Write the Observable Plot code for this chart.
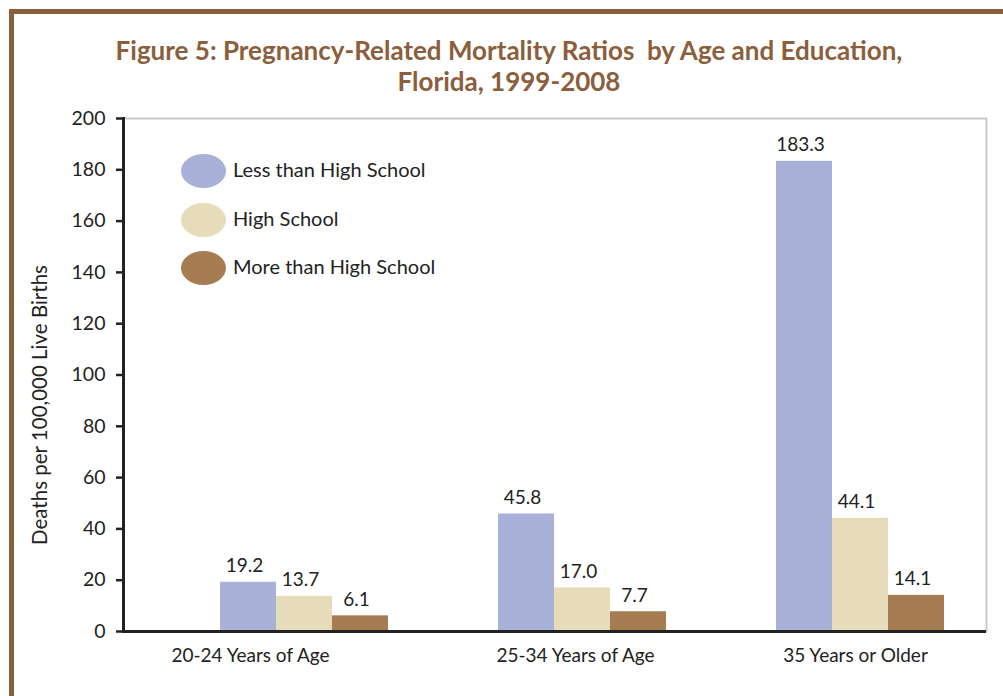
<!DOCTYPE html>
<html>
<head>
<meta charset="utf-8">
<script src="https://cdn.jsdelivr.net/npm/d3@7"></script>
<script src="https://cdn.jsdelivr.net/npm/@observablehq/plot@0.6"></script>
<style>
  body { margin: 0; background: #fff; }
  #wrap { position: relative; width: 1003px; height: 696px; overflow: hidden; background: #fff; font-family: Lato, "Open Sans", sans-serif; }
  #border { position: absolute; left: 9px; top: 9px; right: -20px; bottom: -20px; border-top: 5px solid #8B5E3C; border-left: 5px solid #8B5E3C; }
  #title { position: absolute; left: 14px; width: 990px; top: 35px; text-align: center; color: #8B5E3C; font-family: Lato, sans-serif; font-weight: 700; font-size: 26px; line-height: 31px; }
  #chart { position: absolute; left: 0; top: 100px; }
  .leg { position: absolute; left: 181px; height: 34px; display: flex; align-items: center; font-size: 20px; color: #222; font-family: Lato, sans-serif; }
  .leg span.sw { display: inline-block; width: 45px; height: 34px; border-radius: 50%; margin-right: 7px; }
  .leg span.tx { position: relative; top: -2px; }
</style>
</head>
<body>
<div id="wrap">
  <div id="border"></div>
  <div id="title">Figure 5: Pregnancy-Related Mortality Ratios&nbsp; by Age and Education,<br>Florida, 1999-2008</div>
  <div id="chart"></div>
  <div id="legend"></div>
</div>
<script>
const groups = ["20-24 Years of Age", "25-34 Years of Age", "35 Years or Older"];
const seriesNames = ["Less than High School", "High School", "More than High School"];
const lessThanHS = [19.2, 45.8, 183.3];
const highSchool = [13.7, 17.0, 44.1];
const moreThanHS = [6.1, 7.7, 14.1];
const seriesValues = [lessThanHS, highSchool, moreThanHS];
const seriesColors = ["#A9B1D8", "#E6DCB9", "#A67C52"];
const yTicks = [0, 20, 40, 60, 80, 100, 120, 140, 160, 180, 200];
const yLabel = "Deaths per 100,000 Live Births";

const barW = 56;
const step = 278;
const inset = (step - barW) / 2;
const font = "Lato, sans-serif";

const marks = [
  Plot.frame({stroke: "#c8c8c8", strokeWidth: 2})
];

seriesValues.forEach((vals, i) => {
  const rows = groups.map((g, j) => ({group: g, value: vals[j], series: seriesNames[i]}));
  const off = (i - 1) * barW;
  marks.push(Plot.barY(rows, {x: "group", y: "value", fill: seriesColors[i], insetLeft: inset, insetRight: inset, dx: off}));
  marks.push(Plot.text(rows, {x: "group", y: "value", text: d => d.value.toFixed(1), dx: off - 4, dy: -16, fontSize: 19, fill: "#222", fontFamily: font}));
});

marks.push(
  Plot.ruleY([0], {stroke: "#222", strokeWidth: 3}),
  Plot.frame({anchor: "left", stroke: "#222", strokeWidth: 3}),
  Plot.axisY({ticks: yTicks, tickSize: 7, tickPadding: 11, tickFormat: d => String(d), fontSize: 19.5, stroke: "#222", strokeWidth: 2.5, fill: "#222", label: null, fontFamily: font}),
  Plot.text([yLabel], {frameAnchor: "left", textAnchor: "middle", rotate: -90, dx: -83, dy: 30, fontSize: 20.5, fill: "#222", fontFamily: font})
);

const xOffsets = [-54, -7, -5];
groups.forEach((g, j) => {
  marks.push(Plot.axisX({ticks: [g], tickSize: 0, tickPadding: 17, fontSize: 19, fill: "#222", label: null, dx: xOffsets[j], fontFamily: font}));
});

const chart = Plot.plot({
  width: 1003,
  height: 596,
  marginTop: 18,
  marginBottom: 65,
  marginLeft: 123,
  marginRight: 17,
  style: {background: "transparent", fontFamily: font, color: "#222"},
  x: {type: "band", domain: groups, range: [165, 165 + 3 * step], padding: 0, axis: null},
  y: {domain: [0, 200], axis: null},
  marks
});
document.getElementById("chart").appendChild(chart);

const legend = document.getElementById("legend");
const legTops = [154, 203, 251];
seriesNames.forEach((name, i) => {
  const row = document.createElement("div");
  row.className = "leg";
  row.style.top = legTops[i] + "px";
  row.innerHTML = `<span class="sw" style="background:${seriesColors[i]}"></span><span class="tx">${name}</span>`;
  legend.appendChild(row);
});
</script>
</body>
</html>
